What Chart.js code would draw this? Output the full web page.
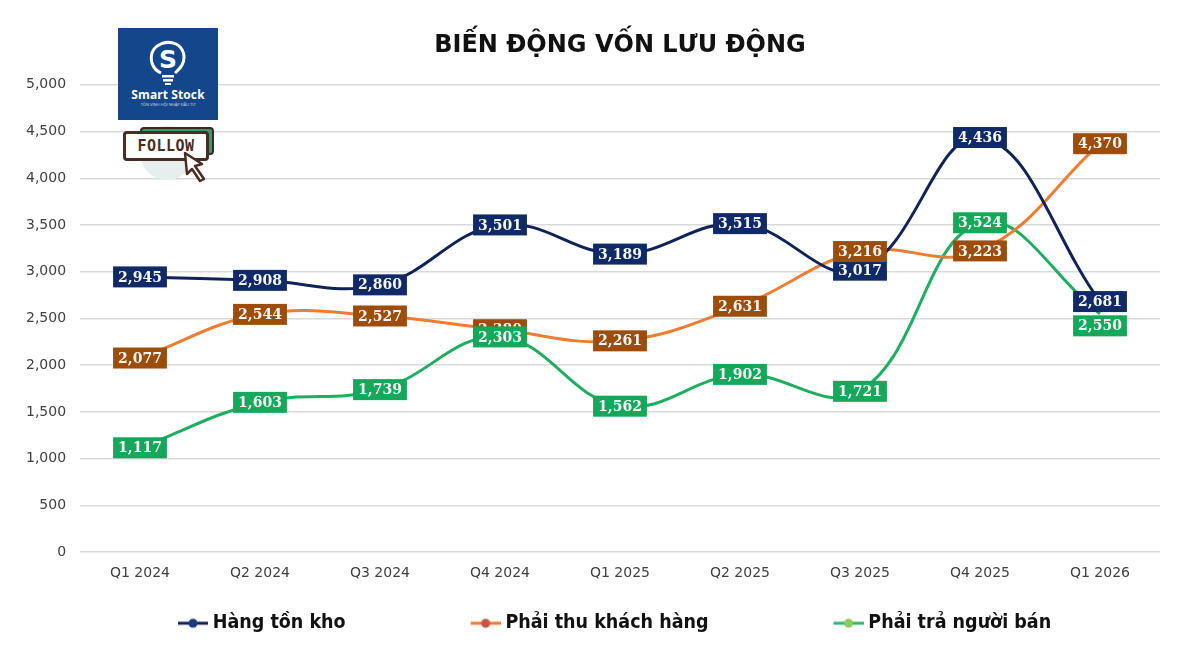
<!DOCTYPE html>
<html lang="vi">
<head>
<meta charset="utf-8">
<title>Biến động vốn lưu động</title>
<script src="https://cdn.jsdelivr.net/npm/chart.js@4.4.1/dist/chart.umd.min.js"></script>
<style>
  html, body { margin: 0; padding: 0; background: #fff; }
  #wrap { position: relative; width: 1200px; height: 658px; overflow: hidden; }
  #logo {
    position: absolute; left: 118px; top: 28px; width: 100px; height: 92px;
    background: #13468a; color: #fff; text-align: center;
    font-family: "Open Sans", "DejaVu Sans", sans-serif;
  }
  #logo svg { position: absolute; left: 30px; top: 12px; }
  #logo .name { position: absolute; left: 0; right: 0; top: 58px; font-size: 12px; font-weight: bold; letter-spacing: 0.1px; }
  #logo .sub { position: absolute; left: 0; right: 0; top: 74px; font-size: 4px; opacity: 0.8; }
  #follow { position: absolute; left: 118px; top: 122px; width: 100px; height: 66px; }
  #follow .halo { position: absolute; left: 22px; top: 4px; width: 54px; height: 54px; border-radius: 50%; background: #e6eeee; }
  #follow .back { position: absolute; left: 22px; top: 5px; width: 70px; height: 24px; background: #2f9e6d; border: 2px solid #3b2a22; border-radius: 4px; }
  #follow .front {
    position: absolute; left: 5px; top: 9px; width: 80px; height: 24px; background: #fff;
    border: 3px solid #4a2c22; border-radius: 4px; color: #4a2c22;
    font: bold 15px "DejaVu Sans Mono", monospace; line-height: 24px; text-align: center; letter-spacing: 0.5px;
  }
  #follow svg { position: absolute; left: 64px; top: 28px; }
</style>
</head>
<body>
<div id="wrap">
  <canvas id="myChart" width="1200" height="658"></canvas>
  <div id="logo">
    <svg width="40" height="48" viewBox="0 0 40 48">
      <path d="M13 33 C4 29 2 20 4 13 C7 4 19 0 28 4 C36 8 38 18 34 25 C32 29 29 31 27 33" fill="none" stroke="#fff" stroke-width="3"/>
      <text x="20" y="28" text-anchor="middle" font-family="DejaVu Sans" font-weight="bold" font-size="25" fill="#fff">S</text>
      <rect x="14" y="35" width="12" height="2.5" fill="#fff"/>
      <rect x="15" y="39" width="10" height="2.5" fill="#fff"/>
      <rect x="17" y="43" width="6" height="2" fill="#fff"/>
    </svg>
    <div class="name">Smart Stock</div>
    <div class="sub">TÔN VINH HỘI NHẬP ĐẦU TƯ</div>
  </div>
  <div id="follow">
    <div class="halo"></div>
    <div class="back"></div>
    <div class="front">FOLLOW</div>
    <svg width="26" height="34" viewBox="0 0 26 34">
      <path d="M3 3 L20 14 L13 16 L22 29 L18 31 L10 19 L5 24 Z" fill="#fff" stroke="#4a2c22" stroke-width="2.5" stroke-linejoin="round"/>
    </svg>
  </div>
</div>
<script>
const categories = ['Q1 2024', 'Q2 2024', 'Q3 2024', 'Q4 2024', 'Q1 2025', 'Q2 2025', 'Q3 2025', 'Q4 2025', 'Q1 2026'];
const inventory = [2945, 2908, 2860, 3501, 3189, 3515, 3017, 4436, 2681];
const receivables = [2077, 2544, 2527, 2380, 2261, 2631, 3216, 3223, 4370];
const payables = [1117, 1603, 1739, 2303, 1562, 1902, 1721, 3524, 2550];
const seriesNames = ['Hàng tồn kho', 'Phải thu khách hàng', 'Phải trả người bán'];
const chartTitle = 'BIẾN ĐỘNG VỐN LƯU ĐỘNG';

const numberFmt = new Intl.NumberFormat('en-US');

// legend marker: short line with a dot, sitting at the right end of a wide transparent strip
function legendMarker(lineColor, dotColor) {
    const c = document.createElement('canvas');
    c.width = 150;
    c.height = 12;
    const g = c.getContext('2d');
    g.strokeStyle = lineColor;
    g.lineWidth = 3;
    g.beginPath();
    g.moveTo(120, 6);
    g.lineTo(150, 6);
    g.stroke();
    g.fillStyle = dotColor;
    g.beginPath();
    g.arc(135, 6, 4.5, 0, Math.PI * 2);
    g.fill();
    return c;
}

// boxed value labels centred on each point
const valueLabels = {
    id: 'valueLabels',
    afterDatasetsDraw(chart, args, opts) {
        const ctx = chart.ctx;
        ctx.save();
        ctx.font = 'bold 14px "DejaVu Serif", serif';
        ctx.textAlign = 'center';
        ctx.textBaseline = 'middle';
        chart.data.datasets.forEach((ds, di) => {
            const meta = chart.getDatasetMeta(di);
            meta.data.forEach((pt, i) => {
                const text = numberFmt.format(ds.data[i]);
                const shift = (opts.shifts || []).find(s => s.dataset === di && s.index === i);
                const y = pt.y + (shift ? shift.dy : 0);
                const w = ctx.measureText(text).width + 10;
                const h = 21;
                ctx.fillStyle = ds.labelColor;
                ctx.fillRect(pt.x - w / 2, y - h / 2, w, h);
                ctx.fillStyle = '#f7f7f7';
                ctx.fillText(text, pt.x, y + 1);
            });
        });
        ctx.restore();
    }
};

const ctx = document.getElementById('myChart').getContext('2d');

new Chart(ctx, {
    type: 'line',
    data: {
        labels: categories,
        datasets: [
            {
                label: seriesNames[0],
                data: inventory,
                borderColor: '#0f2359',
                labelColor: '#102a67',
                legendMarker: legendMarker('#0f2359', '#1f3a78'),
            },
            {
                label: seriesNames[1],
                data: receivables,
                borderColor: '#ee7d31',
                labelColor: '#9c4d0a',
                legendMarker: legendMarker('#ee7d31', '#c9554a'),
            },
            {
                label: seriesNames[2],
                data: payables,
                borderColor: '#1fae5f',
                labelColor: '#14a85a',
                legendMarker: legendMarker('#2bb673', '#8fc95a'),
            }
        ]
    },
    options: {
        responsive: false,
        animation: false,
        locale: 'en-US',
        datasets: {
            line: {
                borderWidth: 3,
                tension: 0.4,
                pointRadius: 0,
                fill: false
            }
        },
        layout: {
            padding: { left: 53, right: 40, top: 31, bottom: 15 }
        },
        scales: {
            x: {
                offset: true,
                grid: { display: false },
                border: { display: false },
                ticks: {
                    color: '#404040',
                    padding: 5,
                    font: { family: '"DejaVu Sans", sans-serif', size: 14 }
                },
                afterFit(scale) { scale.height = 51.3; }
            },
            y: {
                min: 0,
                max: 5000,
                border: { display: false },
                grid: { color: '#d9d9d9', lineWidth: 1.5, drawTicks: false },
                ticks: {
                    stepSize: 500,
                    color: '#404040',
                    // mirrored + far alignment so labels sit right-aligned left of the plot without clipping
                    mirror: true,
                    crossAlign: 'far',
                    padding: -54,
                    font: { family: '"DejaVu Sans", sans-serif', size: 14 }
                },
                afterFit(scale) { scale.width = 27; }
            }
        },
        plugins: {
            title: {
                display: true,
                text: chartTitle,
                fullSize: false,
                color: '#111',
                padding: { top: 0, bottom: 25 },
                font: { family: '"DejaVu Sans", sans-serif', size: 24, weight: 'bold' }
            },
            legend: {
                position: 'bottom',
                align: 'start',
                labels: {
                    usePointStyle: true,
                    pointStyleWidth: 140,
                    padding: 10,
                    color: '#111',
                    font: { family: '"DejaVu Sans Condensed", "Liberation Sans Narrow", sans-serif', size: 19.5, weight: 'bold' },
                    generateLabels(chart) {
                        return chart.data.datasets.map((ds, i) => ({
                            text: ds.label,
                            pointStyle: ds.legendMarker,
                            fontColor: '#111',
                            fillStyle: 'transparent',
                            strokeStyle: 'transparent',
                            lineWidth: 0,
                            hidden: false,
                            datasetIndex: i
                        }));
                    }
                }
            },
            tooltip: { enabled: false },
            valueLabels: {
                shifts: [{ dataset: 2, index: 8, dy: 12 }]
            }
        }
    },
    plugins: [valueLabels]
});
</script>
</body>
</html>
